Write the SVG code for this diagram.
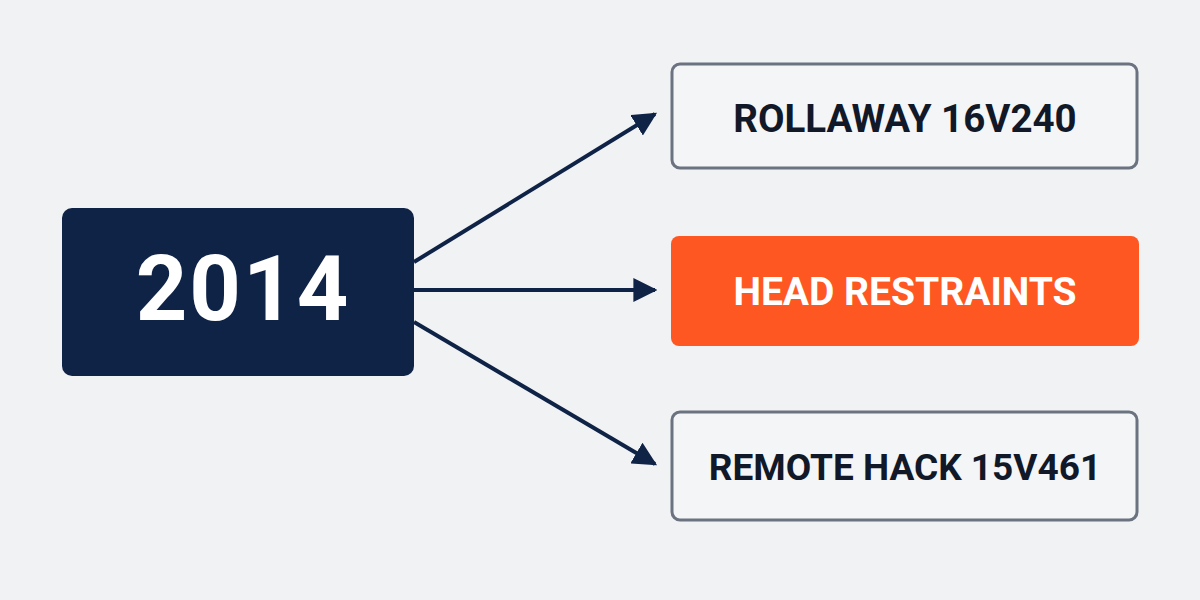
<svg xmlns="http://www.w3.org/2000/svg" width="1200" height="600" viewBox="0 0 1200 600">
<defs>
<marker id="ah" viewBox="0 0 10 10" refX="9" refY="5" markerWidth="6" markerHeight="6" markerUnits="strokeWidth" orient="auto"><path d="M0,0 L10,5 L0,10 z" fill="#0f2347"/></marker>
<style>
.lbl{font-family:"Roboto","Liberation Sans",sans-serif;font-weight:700;text-anchor:middle}
.out{fill:#f4f5f7;stroke:#6b7280;stroke-width:3}
.con{stroke:#0f2347;stroke-width:4;fill:none;marker-end:url(#ah)}
</style>
</defs>
<rect width="1200" height="600" fill="#f1f2f4"/>
<g id="connectors">
<line class="con" x1="414" y1="262" x2="655" y2="114"/>
<line class="con" x1="414" y1="290" x2="655" y2="290"/>
<line class="con" x1="414" y1="322" x2="655" y2="464"/>
</g>
<g id="n2014">
<rect x="62" y="208" width="352" height="168" rx="10" fill="#0f2347"/>
<text class="lbl" x="243" y="320" font-size="90" fill="#ffffff" letter-spacing="2">2014</text>
</g>
<g id="rollaway">
<rect class="out" x="672" y="64" width="465" height="104" rx="8"/>
<text class="lbl" x="905" y="132" font-size="38.5" fill="#111827">ROLLAWAY 16V240</text>
</g>
<g id="head">
<rect x="671" y="236" width="468" height="110" rx="8" fill="#ff5722"/>
<text class="lbl" x="905" y="305" font-size="39" fill="#ffffff">HEAD RESTRAINTS</text>
</g>
<g id="remote">
<rect class="out" x="672" y="412" width="465" height="108" rx="8"/>
<text class="lbl" x="905" y="480" font-size="37" fill="#111827">REMOTE HACK 15V461</text>
</g>
</svg>
